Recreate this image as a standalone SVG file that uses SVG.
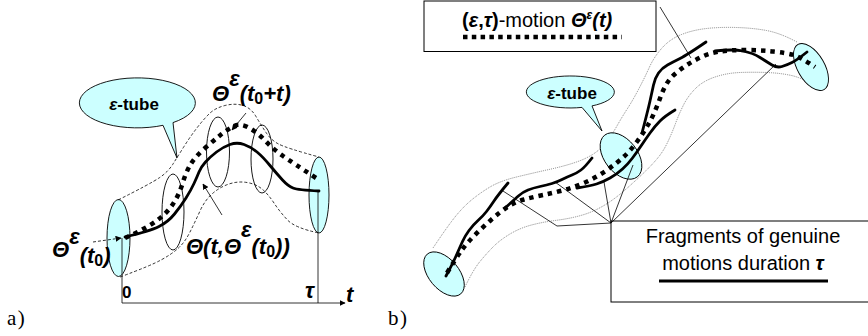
<svg xmlns="http://www.w3.org/2000/svg" width="868" height="336" viewBox="0 0 868 336">
<style>
.bg{fill:#ffffff}
.cyan{fill:#ccffff;stroke:#000;stroke-width:0.9}
.ring{fill:none;stroke:#000;stroke-width:0.9}
.dash{fill:none;stroke:#000;stroke-width:0.8;stroke-dasharray:3 2}
.dot{fill:none;stroke:#666;stroke-width:0.8;stroke-dasharray:1 1}
.traj{fill:none;stroke:#000;stroke-width:4.5;stroke-dasharray:4.5 5}
.gen{fill:none;stroke:#000;stroke-width:2.8;stroke-linecap:round;stroke-linejoin:round}
.thin{fill:none;stroke:#000;stroke-width:0.8}
.box{fill:#fff;stroke:#000;stroke-width:1}
.lab{font-family:"Liberation Sans",Arial,sans-serif;font-weight:bold;font-style:italic;font-size:22px;fill:#000}
.sub{font-style:normal;font-size:16px}
.tube{font-family:"Liberation Sans",Arial,sans-serif;font-weight:bold;font-size:17px;fill:#000}
.txt{font-family:"Liberation Sans",Arial,sans-serif;font-size:20px;fill:#000}
.cap{font-family:"Liberation Serif","Times New Roman",serif;font-size:21px;letter-spacing:1.5px;fill:#000}
</style>
<defs>
<marker id="ah" viewBox="0 0 10 10" refX="9" refY="5" markerWidth="6" markerHeight="6" markerUnits="userSpaceOnUse" orient="auto">
<path d="M0,0 L10,5 L0,10 z" fill="#000"/>
</marker>
</defs>
<rect class="bg" x="0" y="0" width="868" height="336"/>

<!-- ===== Panel a ===== -->
<g id="a-end-left"><ellipse class="cyan" cx="118.5" cy="238" rx="11.5" ry="38.5"/></g>
<g id="a-end-right"><ellipse class="cyan" cx="319" cy="195" rx="10" ry="38"/></g>
<g id="a-ring-1"><ellipse class="ring" cx="173" cy="212" rx="11" ry="38"/></g>
<g id="a-ring-2"><ellipse class="ring" cx="218" cy="152" rx="11.5" ry="35"/></g>
<g id="a-ring-3"><ellipse class="ring" cx="262" cy="159" rx="11" ry="34"/></g>
<g id="a-tube">
<path class="dash" d="M118,200 Q150,184 159,178 T173,164 T184,146.5 T196.5,128.5 T209,114 T225,105.5 T243,105.5 T256,116.5 T266,132.5 T278.5,144 T319,157"/>
<path class="dash" d="M120,277 Q150,266 161,260 T178.5,248 T190,232 T200,211 T212.5,193.5 T229,184 T247,182.5 T262,189 T274,203 T287.5,220 T319,233"/>
</g>
<g id="a-axes">
<line class="thin" x1="122" y1="238" x2="122" y2="303"/>
<line class="thin" x1="318" y1="192" x2="318" y2="303"/>
<line class="thin" x1="122" y1="303" x2="345" y2="303" marker-end="url(#ah)"/>
<text class="tube" x="122" y="298" font-size="17">0</text>
<text class="lab" x="305" y="298" font-size="17">τ</text>
<text class="lab" x="346" y="302" font-size="20">t</text>
</g>
<g id="a-motion">
<path class="traj" d="M125,238 Q147,228 157,220.5 T173,204 T182.5,183.5 T190.5,164.5 T204,149 T220.5,135 T234,126 T248.5,127.5 T265,140.5 T283,156 T316,178"/>
</g>
<g id="a-genuine">
<path class="gen" d="M125,237 Q150,231 159,226.5 T174.5,214 T186,198 T194,183.5 T199,172 T205.5,162 T216.5,152 T230,144.5 T244,144.5 T257,152 T270,165.5 T282.5,180 T293,188 T319,191"/>
</g>
<g id="a-callout">
<path class="cyan" d="M173,122.6 L177,158 L163,125.3 A58 25 0 1 1 173,122.6 Z"/>
<text class="tube" x="134" y="110" text-anchor="middle"><tspan font-style="italic">ε</tspan>-tube</text>
</g>
<g id="a-labels">
<text class="lab" x="212" y="101">Θ<tspan dy="-15">ε</tspan><tspan dy="15">(t</tspan><tspan class="sub" dy="3">0</tspan><tspan dy="-3">+t)</tspan></text>
<text class="lab" x="52" y="257">Θ<tspan dy="-13">ε</tspan><tspan dy="19">(t</tspan><tspan class="sub" dy="3">0</tspan><tspan dy="-3">)</tspan></text>
<text class="lab" x="186" y="254">Θ(t,Θ<tspan dy="-17">ε</tspan><tspan dy="17">(t</tspan><tspan class="sub" dy="3">0</tspan><tspan dy="-3">))</tspan></text>
<text class="cap" x="7" y="325">a)</text>
</g>
<g id="a-connectors">
<line class="thin" x1="246" y1="113" x2="232" y2="130" marker-end="url(#ah)"/>
<line class="thin" x1="93" y1="242" x2="121" y2="238" stroke-dasharray="3 2" marker-end="url(#ah)"/>
<line class="thin" x1="222" y1="215" x2="203" y2="184" marker-end="url(#ah)"/>
</g>

<!-- ===== Panel b ===== -->
<g id="b-tube">
<path class="dot" d="M433,248 Q447,227 455,217 T471.5,200 T490,187 T516.5,177 T549,169.5 T576.5,162 T595.5,152.5 T608,140 T617.5,125 T627.5,108.5 T639,88.5 T649.5,67 T662,48 T681.5,34.5 T706.5,28.5 T736.5,27.5 T766.5,30.5 T797,42"/>
<path class="dot" d="M465,287 Q473,270 480,261.5 T493.5,246.5 T510,234 T531.5,225 T555,220.5 T577,216.5 T594.5,210.5 T609.5,202 T625,190 T641.5,175 T656.5,159.5 T667.5,142.5 T675.5,123.5 T683.5,105 T695.5,88.5 T715,77 T740,72.5 T766.5,72.5 T791.5,75.5 T823,90"/>
</g>
<g id="b-end-left"><ellipse class="cyan" cx="444" cy="274" rx="26" ry="15" transform="rotate(50 444 274)"/></g>
<g id="b-mid"><ellipse class="cyan" cx="621" cy="156" rx="26.5" ry="16.5" transform="rotate(52 621 156)"/></g>
<g id="b-end-right"><ellipse class="cyan" cx="811" cy="67" rx="26" ry="13.5" transform="rotate(60 811 67)"/></g>
<g id="b-motion">
<path class="traj" d="M447,273 Q456,258 461.5,250.5 T475,235 T491.5,219.5 T507.5,207 T524,199.5 T543,195 T564,190 T586,182 T607,170 T624,156.5 T637.5,141 T648,125 T655,111 T660.5,97 T666.5,84 T676,73 T688.5,64 T702.5,56.5 T720,51.5 T745,50 T773.5,51.5 T793.5,55 T815,67"/>
</g>
<g id="b-fragments">
<path class="gen" d="M446,276 Q453,263 456.5,255 T462.5,241.5 T469,230.5 T478,220.5 T486.5,211.5 T494,201 T508,183"/>
<path class="gen" d="M505,208 Q515,199 519,195.5 T528,190 T540,186.5 T552,183.5 T562,179.5 T572,175 T581,170 T592,158"/>
<path class="gen" d="M577,188 Q590,186 596.5,184 T610,178 T622.5,169 T632.5,158 T641,146 T650,133 T660,121 T675,110"/>
<path class="gen" d="M642,133 Q648,110 650,101 T653.5,85 T658.5,73 T667.5,65 T680,58.5 T706,42"/>
<path class="gen" d="M715,51 Q733,49 743,51 T760,57.5 T772,65 T782,66.5 T792,62.5 T807,52"/>
</g>
<g id="b-callout">
<path class="cyan" d="M592,105.9 L602,131 L582,107.4 A44 16 0 1 1 592,105.9 Z"/>
<text class="tube" x="572" y="99" text-anchor="middle"><tspan font-style="italic">ε</tspan>-tube</text>
</g>
<g id="b-legend-motion">
<rect class="box" x="424" y="1" width="232" height="50.5"/>
<text class="txt" x="462" y="27"><tspan font-weight="bold">(</tspan><tspan font-weight="bold" font-style="italic">ε</tspan><tspan font-weight="bold">,</tspan><tspan font-weight="bold" font-style="italic">τ</tspan><tspan font-weight="bold">)</tspan>-motion <tspan font-weight="bold" font-style="italic">Θ</tspan><tspan font-weight="bold" font-style="italic" font-size="12" dy="-8">ε</tspan><tspan font-weight="bold" font-style="italic" dy="8">(t)</tspan></text>
<line x1="463" y1="37" x2="622" y2="37" stroke="#000" stroke-width="4.5" stroke-dasharray="4.5 4.3"/>
</g>
<g id="b-legend-fragments">
<rect class="box" x="611" y="221" width="270" height="81"/>
<text class="txt" x="743" y="243" text-anchor="middle">Fragments of genuine</text>
<text class="txt" x="743" y="270" text-anchor="middle">motions duration <tspan font-weight="bold" font-style="italic">τ</tspan></text>
<line x1="659" y1="281" x2="828" y2="281" stroke="#000" stroke-width="3"/>
</g>
<g id="b-connectors">
<line class="thin" x1="660" y1="7" x2="691" y2="58"/>
<polyline class="thin" points="611,223 557,226 503,191"/>
<line class="thin" x1="611" y1="223" x2="555" y2="182"/>
<line class="thin" x1="611" y1="223" x2="604" y2="182"/>
<line class="thin" x1="611" y1="223" x2="633" y2="165"/>
<line class="thin" x1="611" y1="223" x2="776" y2="64"/>
</g>
<g id="b-caption"><text class="cap" x="388" y="325">b)</text></g>
</svg>
